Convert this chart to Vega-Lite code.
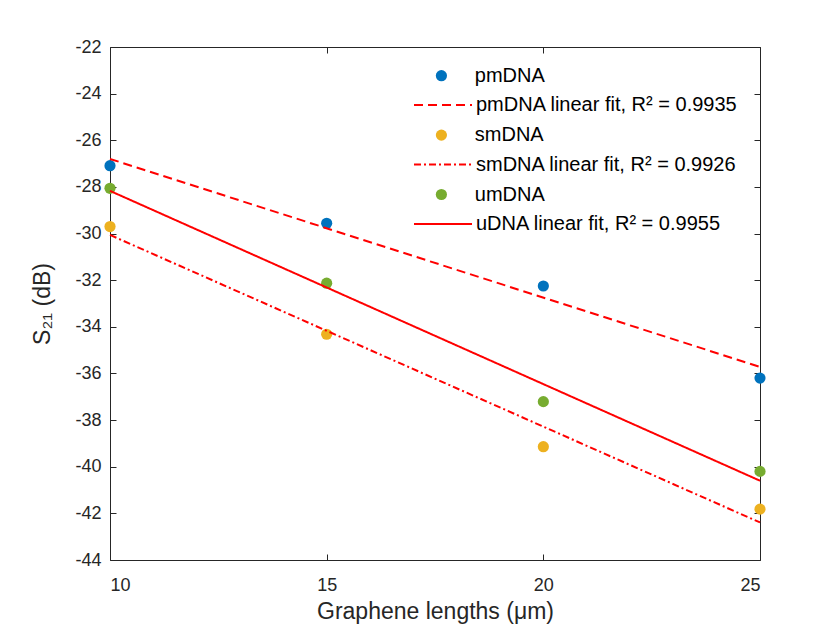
{
  "$schema": "https://vega.github.io/schema/vega-lite/v6.json",
  "width": 650,
  "height": 513,
  "autosize": {"type": "none"},
  "padding": {"left": 110, "top": 47, "right": 80, "bottom": 70},
  "background": "white",
  "config": {
    "font": "Liberation Sans",
    "view": {"stroke": null},
    "axis": {
      "grid": false,
      "domainColor": "#262626",
      "tickColor": "#262626",
      "labelColor": "#262626",
      "titleColor": "#262626",
      "labelFontSize": 18,
      "titleFontSize": 23,
      "titleFontWeight": "normal",
      "tickSize": -6,
      "domainWidth": 1,
      "tickWidth": 1
    },
    "legend": {
      "title": null,
      "orient": "none",
      "padding": 0,
      "labelFontSize": 20,
      "labelColor": "#000000",
      "labelLimit": 400,
      "clipHeight": 29.4,
      "rowPadding": 29.4
    }
  },
  "datasets": {
    "points": [
      {"length": 10, "s21": -27.09, "sample": "pmDNA"},
      {"length": 15, "s21": -29.56, "sample": "pmDNA"},
      {"length": 20, "s21": -32.25, "sample": "pmDNA"},
      {"length": 25, "s21": -36.2, "sample": "pmDNA"},
      {"length": 10, "s21": -29.7, "sample": "smDNA"},
      {"length": 15, "s21": -34.32, "sample": "smDNA"},
      {"length": 20, "s21": -39.14, "sample": "smDNA"},
      {"length": 25, "s21": -41.82, "sample": "smDNA"},
      {"length": 10, "s21": -28.06, "sample": "umDNA"},
      {"length": 15, "s21": -32.13, "sample": "umDNA"},
      {"length": 20, "s21": -37.21, "sample": "umDNA"},
      {"length": 25, "s21": -40.2, "sample": "umDNA"}
    ],
    "fits": [
      {"length": 10, "s21": -26.8, "fit": "pmDNA linear fit, R² = 0.9935"},
      {"length": 25, "s21": -35.72, "fit": "pmDNA linear fit, R² = 0.9935"},
      {"length": 10, "s21": -30.06, "fit": "smDNA linear fit, R² = 0.9926"},
      {"length": 25, "s21": -42.39, "fit": "smDNA linear fit, R² = 0.9926"},
      {"length": 10, "s21": -28.17, "fit": "uDNA linear fit, R² = 0.9955"},
      {"length": 25, "s21": -40.6, "fit": "uDNA linear fit, R² = 0.9955"}
    ]
  },
  "layer": [
    {
      "layer": [
        {
          "data": {"name": "points"},
          "mark": {"type": "point", "filled": true, "size": 125, "opacity": 1, "strokeWidth": 0},
          "encoding": {
            "x": {
              "field": "length", "type": "quantitative",
              "scale": {"domain": [10, 25], "nice": false, "zero": false},
              "axis": {"orient": "bottom", "values": [10, 15, 20, 25], "title": "Graphene lengths (μm)", "labelPadding": 22, "titlePadding": 6}
            },
            "y": {
              "field": "s21", "type": "quantitative",
              "scale": {"domain": [-44, -22], "nice": false, "zero": false},
              "axis": {
                "orient": "left",
                "values": [-44, -42, -40, -38, -36, -34, -32, -30, -28, -26, -24, -22],
                "labelExpr": "'' + datum.value",
                "title": "S₂₁ (dB)",
                "labelPadding": 15,
                "titlePadding": 20
              }
            },
            "color": {
              "field": "sample", "type": "nominal",
              "scale": {
                "domain": ["pmDNA", "smDNA", "umDNA"],
                "range": ["#0072BD", "#EDB120", "#77AC30"]
              },
              "legend": {
                "legendX": 321.4,
                "legendY": 14,
                "symbolType": "circle",
                "symbolSize": 125,
                "symbolStrokeWidth": 0,
                "labelOffset": 23.4
              }
            }
          }
        },
        {
          "data": {"name": "fits"},
          "mark": {"type": "line", "strokeWidth": 2, "color": "#FF0000"},
          "encoding": {
            "x": {"field": "length", "type": "quantitative"},
            "y": {"field": "s21", "type": "quantitative"},
            "strokeDash": {
              "field": "fit", "type": "nominal",
              "scale": {
                "domain": ["pmDNA linear fit, R² = 0.9935", "smDNA linear fit, R² = 0.9926", "uDNA linear fit, R² = 0.9955"],
                "range": [[9, 5], [7, 3, 2, 3], [1, 0]]
              },
              "legend": {
                "legendX": 303,
                "legendY": 43.4,
                "symbolType": "stroke",
                "symbolSize": 3364,
                "symbolStrokeColor": "#FF0000",
                "symbolStrokeWidth": 2,
                "labelOffset": 3
              }
            }
          }
        }
      ]
    },
    {
      "data": {"name": "points"},
      "mark": {"type": "point", "opacity": 0},
      "encoding": {
        "x": {
          "field": "length", "type": "quantitative",
          "axis": {"orient": "top", "values": [10, 15, 20, 25], "labels": false, "title": null}
        },
        "y": {
          "field": "s21", "type": "quantitative",
          "axis": {"orient": "right", "values": [-44, -42, -40, -38, -36, -34, -32, -30, -28, -26, -24, -22], "labels": false, "title": null}
        }
      }
    }
  ],
  "resolve": {"axis": {"x": "independent", "y": "independent"}}
}
